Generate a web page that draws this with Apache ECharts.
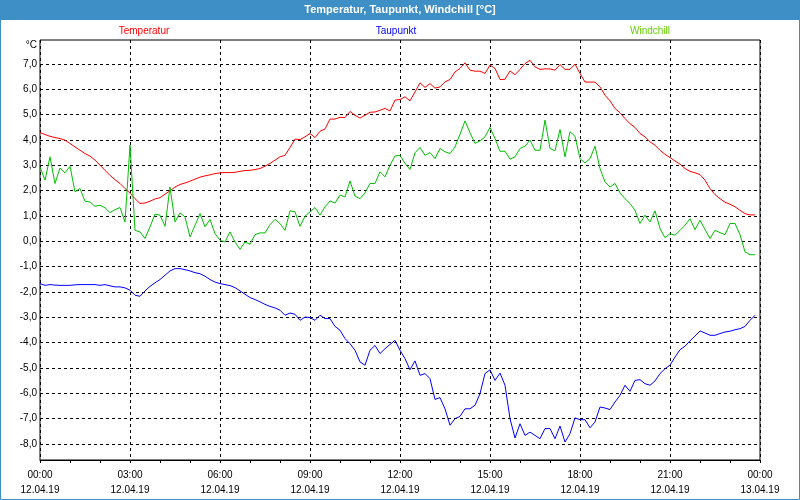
<!DOCTYPE html>
<html>
<head>
<meta charset="utf-8">
<script src="https://cdn.jsdelivr.net/npm/echarts@6/dist/echarts.min.js"></script>
<style>
  html, body { margin: 0; padding: 0; background: #fff; }
  #chart { width: 800px; height: 500px; }
</style>
</head>
<body>
<div id="chart"></div>
<script>
// Messwerte alle 10 Minuten, 12.04.19 00:00 bis 23:50
var temperatur = [
    4.29, 4.21, 4.14, 4.09, 4.05, 3.99, 3.86, 3.72, 3.59, 3.46, 3.36, 3.2, 3.0, 2.8, 2.6, 2.43, 2.28, 2.08, 1.9, 1.68, 1.49, 1.51, 1.58, 1.67,
    1.72, 1.86, 1.99, 2.14, 2.24, 2.3, 2.37, 2.45, 2.53, 2.58, 2.62, 2.67, 2.7, 2.71, 2.71, 2.72, 2.76, 2.79, 2.8, 2.83, 2.87, 2.96, 3.07, 3.2,
    3.33, 3.39, 3.7, 4.03, 4.01, 4.12, 4.25, 4.09, 4.34, 4.43, 4.82, 4.82, 4.89, 4.88, 5.12, 4.97, 4.86, 4.97, 5.09, 5.1, 5.17, 5.24, 5.14, 5.57,
    5.59, 5.7, 5.54, 5.89, 6.25, 6.07, 6.22, 6.04, 6.09, 6.29, 6.38, 6.68, 6.82, 7.04, 6.75, 6.71, 6.71, 6.62, 6.95, 6.82, 6.38, 6.39, 6.72, 6.57,
    6.78, 7.01, 7.14, 6.88, 6.78, 6.8, 6.8, 6.75, 6.97, 6.78, 6.78, 6.99, 6.62, 6.28, 6.28, 6.28, 6.09, 5.76, 5.54, 5.24, 5.07, 4.84, 4.64, 4.49,
    4.25, 4.12, 3.92, 3.79, 3.59, 3.43, 3.3, 3.17, 3.04, 2.87, 2.76, 2.7, 2.63, 2.41, 2.08, 1.84, 1.68, 1.54, 1.46, 1.36, 1.22, 1.09, 1.04, 1.04
];
var taupunkt = [
    -1.67, -1.74, -1.71, -1.73, -1.74, -1.74, -1.74, -1.72, -1.71, -1.71, -1.71, -1.71, -1.74, -1.71, -1.76, -1.8, -1.8, -1.84, -1.93, -2.13, -2.17, -1.96, -1.78, -1.64,
    -1.51, -1.34, -1.17, -1.08, -1.08, -1.12, -1.17, -1.24, -1.28, -1.38, -1.51, -1.61, -1.67, -1.71, -1.75, -1.83, -1.96, -2.09, -2.22, -2.3, -2.39, -2.49, -2.57, -2.63,
    -2.72, -2.92, -2.83, -2.88, -3.12, -2.99, -3.01, -3.12, -2.92, -3.05, -3.05, -3.36, -3.51, -3.84, -4.04, -4.3, -4.76, -4.89, -4.3, -4.11, -4.43, -4.24, -4.07, -3.91,
    -4.3, -4.63, -5.07, -4.72, -5.29, -5.22, -5.42, -6.24, -6.17, -6.61, -7.26, -7.0, -6.91, -6.61, -6.61, -6.47, -6.01, -5.22, -5.07, -5.49, -5.2, -5.68, -7.0, -7.76,
    -7.2, -7.66, -7.53, -7.66, -7.79, -7.39, -7.39, -7.79, -7.29, -7.92, -7.59, -6.97, -7.04, -7.04, -7.36, -7.13, -6.54, -6.58, -6.64, -6.34, -6.08, -5.68, -5.92, -5.49,
    -5.46, -5.62, -5.68, -5.51, -5.22, -5.03, -4.89, -4.57, -4.28, -4.14, -3.93, -3.74, -3.54, -3.62, -3.71, -3.71, -3.64, -3.58, -3.55, -3.49, -3.45, -3.36, -3.12, -2.92
];
var windchill = [
    2.93, 2.41, 3.33, 2.28, 2.89, 2.7, 2.96, 1.95, 2.08, 1.58, 1.55, 1.38, 1.42, 1.32, 1.13, 1.25, 1.33, 0.76, 3.79, 0.43, 0.37, 0.11, 0.57, 1.07,
    1.03, 0.59, 2.14, 0.76, 1.12, 0.96, 0.17, 0.63, 1.09, 0.57, 0.86, 0.3, 0.04, -0.03, 0.37, -0.03, -0.32, -0.03, -0.12, 0.26, 0.33, 0.33, 0.66, 0.86,
    0.7, 0.43, 1.2, 1.16, 0.59, 0.99, 1.16, 1.33, 1.03, 1.36, 1.59, 1.51, 1.82, 1.75, 2.38, 1.78, 1.68, 1.91, 2.28, 2.28, 2.74, 2.54, 3.0, 3.36,
    3.39, 3.07, 2.83, 3.49, 3.7, 3.39, 3.5, 3.26, 3.66, 3.53, 3.46, 3.72, 4.22, 4.75, 4.28, 3.86, 3.96, 4.12, 4.49, 4.05, 3.55, 3.55, 3.24, 3.33,
    3.66, 3.75, 3.99, 3.59, 3.59, 4.78, 3.66, 3.57, 4.41, 3.33, 4.32, 4.14, 3.26, 3.09, 3.26, 3.75, 2.87, 2.34, 2.14, 2.28, 1.91, 1.68, 1.49, 1.22,
    0.7, 1.03, 0.76, 1.2, 0.5, 0.14, 0.3, 0.24, 0.43, 0.63, 0.89, 0.46, 0.83, 0.46, 0.11, 0.43, 0.34, 0.26, 0.7, 0.7, 0.26, -0.42, -0.53, -0.53
];
var yTicks = [-8, -7, -6, -5, -4, -3, -2, -1, 0, 1, 2, 3, 4, 5, 6, 7];
var xDates = ['12.04.19', '12.04.19', '12.04.19', '12.04.19', '12.04.19', '12.04.19', '12.04.19', '12.04.19', '13.04.19'];

// Zeitachse in Stunden (10-Minuten-Raster)
var stunden = [];
for (var i = 0; i < temperatur.length; i++) {
    stunden.push(i / 6);
}
function pairs(values) {
    var out = [];
    for (var i = 0; i < values.length; i++) {
        out.push([stunden[i], values[i]]);
    }
    return out;
}

var font = 'Liberation Sans';
var myChart = echarts.init(document.getElementById('chart'));
var option = {
    animation: false,
    backgroundColor: '#fff',
    grid: {
        left: 40, right: 40, top: 40, bottom: 40,
        show: true, borderColor: '#000', borderWidth: 1, backgroundColor: '#fff'
    },
    graphic: [
        { type: 'rect', shape: { x: 0, y: 0, width: 800, height: 20 }, style: { fill: '#3d8fc6' }, z: 10 },
        { type: 'rect', shape: { x: 0.5, y: 0.5, width: 799, height: 499 }, style: { fill: null, stroke: '#3d8fc6', lineWidth: 1 }, z: 10 },
        { type: 'text', x: 400, y: 10, style: { text: 'Temperatur, Taupunkt, Windchill [°C]', fill: '#fff', font: 'bold 11px ' + font, textAlign: 'center', textVerticalAlign: 'middle' }, z: 11 },
        { type: 'text', x: 144, y: 31, style: { text: 'Temperatur', fill: '#ff0000', font: '10px ' + font, textAlign: 'center', textVerticalAlign: 'middle' } },
        { type: 'text', x: 396, y: 31, style: { text: 'Taupunkt', fill: '#0000ff', font: '10px ' + font, textAlign: 'center', textVerticalAlign: 'middle' } },
        { type: 'text', x: 650, y: 31, style: { text: 'Windchill', fill: '#66cc00', font: '10px ' + font, textAlign: 'center', textVerticalAlign: 'middle' } },
        { type: 'text', x: 37, y: 45, style: { text: '°C', fill: '#000', font: '10px ' + font, textAlign: 'right', textVerticalAlign: 'middle' } }
    ],
    xAxis: {
        type: 'value',
        min: 0, max: 24, interval: 3,
        axisLine: { show: true, onZero: false, lineStyle: { color: '#000' } },
        axisTick: { show: true, length: 3, lineStyle: { color: '#000' } },
        minorTick: { show: true, splitNumber: 3, length: 3, lineStyle: { color: '#000' } },
        splitLine: { show: true, lineStyle: { color: '#000', type: [3, 3], width: 1 } },
        axisLabel: {
            margin: 8, color: '#000', fontFamily: font, fontSize: 10, lineHeight: 15,
            formatter: function (v) {
                var h = v % 24;
                return (h < 10 ? '0' : '') + h + ':00\n' + xDates[v / 3];
            }
        }
    },
    yAxis: {
        type: 'value',
        min: -8.63, max: 7.94,
        axisLine: { show: false },
        axisTick: { show: false, customValues: yTicks },
        splitLine: { show: true, lineStyle: { color: '#000', type: [3, 3], width: 1 } },
        axisLabel: {
            customValues: yTicks, margin: 3, color: '#000', fontFamily: font, fontSize: 10,
            formatter: function (v) { return v.toFixed(1).replace('.', ','); }
        }
    },
    series: [
        { name: 'Temperatur', type: 'line', data: pairs(temperatur), showSymbol: false, lineStyle: { color: '#ff0000', width: 1 }, itemStyle: { color: '#ff0000' } },
        { name: 'Taupunkt', type: 'line', data: pairs(taupunkt), showSymbol: false, lineStyle: { color: '#0000ff', width: 1 }, itemStyle: { color: '#0000ff' } },
        { name: 'Windchill', type: 'line', data: pairs(windchill), showSymbol: false, lineStyle: { color: '#00c000', width: 1 }, itemStyle: { color: '#00c000' } }
    ]
};
myChart.setOption(option);
</script>
</body>
</html>
